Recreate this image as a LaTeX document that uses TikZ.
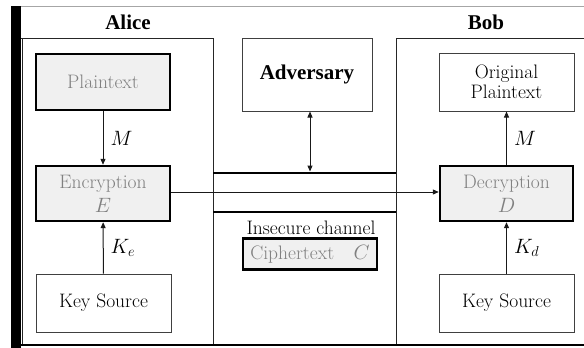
\documentclass[tikz,border=0pt]{standalone}
\usepackage{fontspec}
\newfontfamily\titlefont{Liberation Serif}
\usetikzlibrary{arrows.meta}
\begin{document}
\begin{tikzpicture}[x=1pt,y=-1pt,
  frameline/.style={draw=black!85, line width=1pt},
  chanline/.style={draw=black, line width=2.6pt},
  grayblock/.style={draw=black, line width=2.4pt, fill=black!6, text=black!50,
    inner sep=0pt, align=center, font=\fontsize{19.5}{24}\selectfont},
  plainbox/.style={draw=black!75, line width=1pt, fill=white, inner sep=0pt,
    align=center, font=\fontsize{19.5}{20}\selectfont},
  lbl/.style={font=\fontsize{19.5}{22}\selectfont, inner sep=0pt},
  titletext/.style={font=\titlefont\bfseries\fontsize{21}{24}\selectfont, inner sep=0pt},
  tip/.tip={Triangle[length=6pt,width=5pt]},
  flow/.style={draw=black!90, line width=1pt, -tip},
]
\useasboundingbox (0,0) rectangle (584,348);

% outer frame: black bar on the left, rule on top and bottom
\fill[black] (11,6) rectangle (21,348);
\draw[black!35, line width=1pt] (21,6.5) -- (584,6.5);

% Alice and Bob panels
\draw[frameline] (21,38) -- (213,38) -- (213,345);
\draw[frameline] (22,38) -- (22,345);
\draw[frameline] (584,38) -- (396,38) -- (396,345);
\draw[black, line width=2pt] (21,345) -- (584,345);

\node[titletext] (alice) at (128,22) {Alice};
\node[titletext] (bob) at (486,22) {Bob};

% Alice side
\node[grayblock, minimum width=134pt, minimum height=56pt] (plain) at (103,82) {Plaintext};
\node[grayblock, minimum width=134pt, minimum height=55pt] (enc) at (103,193.5) {Encryption\\$E$};
\node[plainbox, minimum width=135pt, minimum height=58pt] (keyA) at (103.5,303) {Key Source};

% Bob side
\node[plainbox, minimum width=135pt, minimum height=58pt] (orig) at (506.5,82) {Original\\Plaintext};
\node[grayblock, minimum width=133pt, minimum height=55pt] (dec) at (506.5,193.5) {Decryption\\$D$};
\node[plainbox, minimum width=135pt, minimum height=58pt] (keyB) at (506.5,303) {Key Source};

% adversary and channel
\node[plainbox, titletext, minimum width=130pt, minimum height=73pt] (adv) at (307,74.5) {Adversary};
\coordinate (chTL) at (213,173);
\coordinate (chTR) at (396,173);
\coordinate (chBL) at (213,212);
\coordinate (chBR) at (396,212);
\coordinate (tap) at (310,171.5);
\draw[chanline] (chTL) -- (chTR);
\draw[chanline] (chBL) -- (chBR);
\node[lbl] (chan) at (311,228) {Insecure channel};
\node[grayblock, minimum width=134pt, minimum height=31pt] (ciph) at (310,254) {Ciphertext\quad$C$};

% connectors
\draw[flow] (plain) -- node[lbl, right=7pt, text=black] (mA) {$M$} (enc);
\draw[flow] (keyA) -- node[lbl, right=7pt, text=black] (keA) {$K_e$} (enc);
\draw[flow] (enc.east |- 0,192) -- (dec.west |- 0,192);
\draw[flow] (dec) -- node[lbl, right=7pt, text=black] (mB) {$M$} (orig);
\draw[flow] (keyB) -- node[lbl, right=7pt, text=black] (kdB) {$K_d$} (dec);
\draw[flow, tip-tip] (adv.south -| tap) -- (tap);
\end{tikzpicture}
\end{document}
